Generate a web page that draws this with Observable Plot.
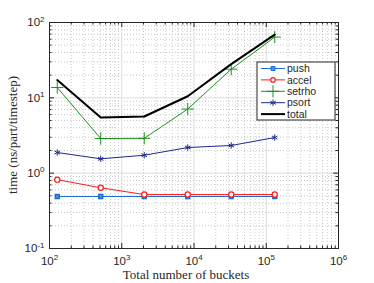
<!DOCTYPE html>
<html><head><meta charset="utf-8">
<script src="https://cdn.jsdelivr.net/npm/d3@7"></script>
<script src="https://cdn.jsdelivr.net/npm/@observablehq/plot@0.6"></script>
<style>
body{margin:0;background:#fff;}
#chart{position:relative;width:374px;height:283px;overflow:hidden;}
</style></head>
<body><div id="chart"></div>
<script>
const buckets = [128, 512, 2048, 8192, 32768, 131072];
const push   = [0.49, 0.49, 0.49, 0.49, 0.49, 0.49];
const accel  = [0.82, 0.64, 0.52, 0.52, 0.52, 0.52];
const setrho = [13.7, 2.88, 2.9, 7.1, 24, 64];
const psort  = [1.88, 1.55, 1.73, 2.19, 2.33, 2.97];
const total  = [17.2, 5.5, 5.65, 10.5, 28, 69];
const seriesNames = ["push", "accel", "setrho", "psort", "total"];
const xTicks = [1e2, 1e3, 1e4, 1e5, 1e6];
const yTicks = [0.1, 1, 10, 100];

const colors = {push:"#1f6fd0", accel:"#ff1a1a", setrho:"#1e8f1e", psort:"#1c2a8c", total:"#000000"};
const seriesVals = {push, accel, setrho, psort, total};
const rows = seriesNames.map(n => buckets.map((b,i)=>({x:b, y:seriesVals[n][i], s:n}))).flat();
const bySeries = n => rows.filter(r=>r.s===n);

const xMinor = d3.scaleLog().domain([100,1e6]).ticks().filter(v=>!xTicks.includes(v));
const yMinor = d3.scaleLog().domain([0.1,100]).ticks().filter(v=>!yTicks.some(t=>Math.abs(t-v)<1e-9));

const W=374,H=283,ML=49,MR=36,MT=22,MB=35;
const FW=W-ML-MR, FH=H-MT-MB;
const ink="#262626";
const fmt = d => "10^" + Math.round(Math.log10(d));

const plot = Plot.plot({
  width:W, height:H, marginLeft:ML, marginRight:MR, marginTop:MT, marginBottom:MB,
  style:{fontFamily:"'Liberation Sans', Arial, sans-serif", fontSize:"11px", color:ink, background:"#fff"},
  x:{type:"log", domain:[100,1e6], axis:null},
  y:{type:"log", domain:[0.1,100], axis:null},
  marks:[
    Plot.gridX(xMinor,{stroke:"#c8c8c8", strokeOpacity:1, strokeDasharray:"1,2"}),
    Plot.gridY(yMinor,{stroke:"#c8c8c8", strokeOpacity:1, strokeDasharray:"1,2"}),
    Plot.gridX(xTicks,{stroke:"#dcdcdc", strokeOpacity:1}),
    Plot.gridY(yTicks,{stroke:"#dcdcdc", strokeOpacity:1}),
    Plot.tickX(xTicks,{x:d=>d, insetTop:FH-5, stroke:ink}),
    Plot.tickX(xTicks,{x:d=>d, insetBottom:FH-5, stroke:ink}),
    Plot.tickX(xMinor,{x:d=>d, insetTop:FH-2.5, stroke:ink}),
    Plot.tickX(xMinor,{x:d=>d, insetBottom:FH-2.5, stroke:ink}),
    Plot.tickY(yTicks,{y:d=>d, insetRight:FW-5, stroke:ink}),
    Plot.tickY(yTicks,{y:d=>d, insetLeft:FW-5, stroke:ink}),
    Plot.tickY(yMinor,{y:d=>d, insetRight:FW-2.5, stroke:ink}),
    Plot.tickY(yMinor,{y:d=>d, insetLeft:FW-2.5, stroke:ink}),
    Plot.axisX(xTicks,{tickSize:0, tickPadding:8, tickFormat:fmt, fill:ink, fontSize:11.5, label:null}),
    Plot.axisY(yTicks,{tickSize:0, tickPadding:5, tickFormat:fmt, fill:ink, fontSize:11.5, label:null}),
    Plot.frame({stroke:ink}),
    Plot.line(bySeries("push"),{x:"x",y:"y",stroke:colors.push,strokeWidth:1}),
    Plot.dot(bySeries("push"),{x:"x",y:"y",symbol:"square",fill:"#4a90e2",stroke:colors.push,r:2.2}),
    Plot.line(bySeries("accel"),{x:"x",y:"y",stroke:colors.accel,strokeWidth:1}),
    Plot.dot(bySeries("accel"),{x:"x",y:"y",symbol:"circle",fill:"#fff",stroke:colors.accel,strokeWidth:1.2,r:2.6}),
    Plot.line(bySeries("setrho"),{x:"x",y:"y",stroke:colors.setrho,strokeWidth:1}),
    Plot.dot(bySeries("setrho"),{x:"x",y:"y",symbol:"plus",fill:"none",stroke:colors.setrho,strokeWidth:1,r:4}),
    Plot.line(bySeries("psort"),{x:"x",y:"y",stroke:colors.psort,strokeWidth:1}),
    Plot.dot(bySeries("psort"),{x:"x",y:"y",symbol:"asterisk",fill:"none",stroke:colors.psort,strokeWidth:1,r:3}),
    Plot.line(bySeries("total"),{x:"x",y:"y",stroke:colors.total,strokeWidth:2})
  ]
});

const svg = d3.select(plot);
svg.selectAll("text").each(function(){
  const t = d3.select(this);
  if (t.selectAll("tspan").size()) return;
  const m = /^10\^(-?\d+)$/.exec(t.text());
  if (m){
    t.text("10");
    t.append("tspan").attr("dy","-0.55em").attr("font-size","8px").text(m[1]);
  }
});
svg.append("text").attr("x", 186).attr("y", 279).attr("text-anchor","middle")
  .attr("font-family","'Liberation Serif','Times New Roman',serif").attr("font-size","13px").attr("fill",ink)
  .text("Total number of buckets");
svg.append("text").attr("transform",`translate(17,${MT+FH/2}) rotate(-90)`).attr("text-anchor","middle")
  .attr("font-family","'Liberation Serif','Times New Roman',serif").attr("font-size","13px").attr("fill",ink)
  .text("time (ns/part/timestep)");
const lg = svg.append("g").attr("transform","translate(257,62)").attr("text-anchor","start");
lg.append("rect").attr("width",78).attr("height",58).attr("fill","#fff").attr("stroke",ink).attr("stroke-width",1);
const sym = {push:d3.symbolSquare, accel:d3.symbolCircle, setrho:d3.symbolPlus, psort:d3.symbolAsterisk};
seriesNames.forEach((n,i)=>{
  const y = 6.5 + i*11.4;
  const g = lg.append("g").attr("transform",`translate(0,${y})`);
  g.append("path").attr("d","M4,0H28").attr("fill","none").attr("stroke",colors[n]).attr("stroke-width", n==="total"?2:1);
  if (sym[n]){
    const size = n==="setrho"?50:(n==="psort"?28:16);
    const p = g.append("path").attr("transform","translate(16,0)").attr("d", d3.symbol(sym[n], size)());
    if (n==="push") p.attr("fill","#4a90e2").attr("stroke",colors[n]);
    else if (n==="accel") p.attr("fill","#fff").attr("stroke",colors[n]).attr("stroke-width",1.2);
    else p.attr("fill","none").attr("stroke",colors[n]);
  }
  g.append("text").attr("x",30).attr("dy","0.35em").attr("text-anchor","start").attr("font-size","10.5px").attr("fill",ink).text(n);
});
document.getElementById("chart").appendChild(plot);
</script></body></html>
